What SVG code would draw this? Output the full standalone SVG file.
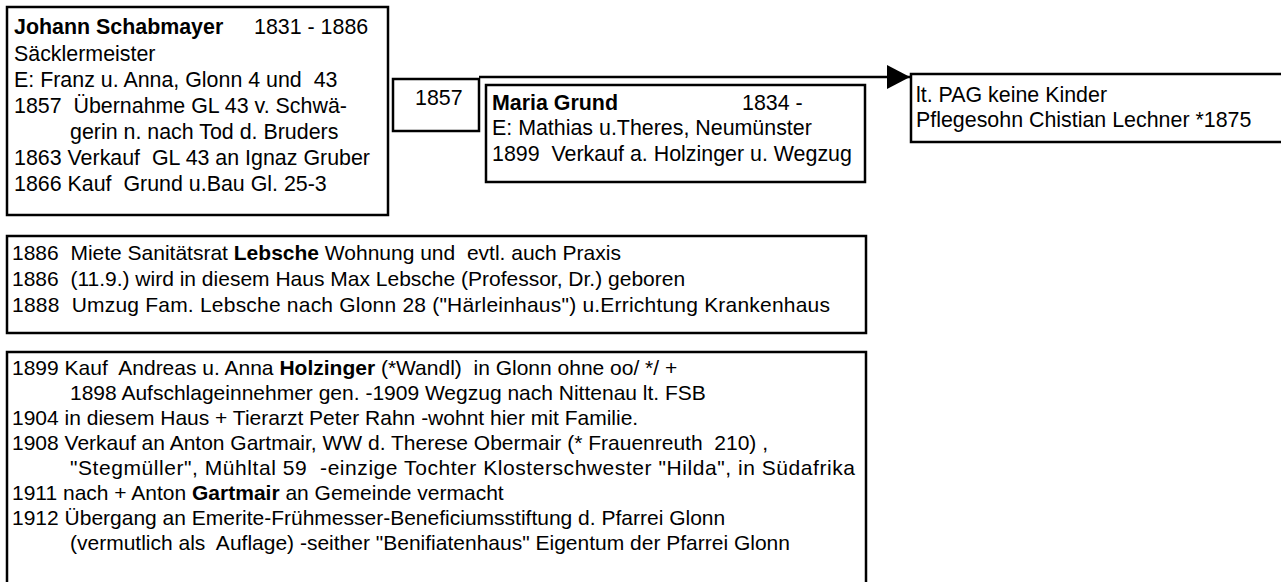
<svg xmlns="http://www.w3.org/2000/svg" width="1281" height="582" viewBox="0 0 1281 582">
<style>
.box{fill:#fff;stroke:#000;stroke-width:2.5}
text{font-family:"Liberation Sans",Arial,sans-serif;font-size:21.4px;fill:#000}
.low text{font-size:21px}
.b{font-weight:bold}
.conn{stroke:#000;stroke-width:2.5;fill:none}
</style>
<defs>
<marker id="arr" markerUnits="userSpaceOnUse" markerWidth="24" markerHeight="26" refX="23" refY="12" orient="auto">
<path d="M0,0 L23,12 L0,24 Z" fill="#000"/>
</marker>
</defs>
<rect width="1281" height="582" fill="#fff"/>
<g id="connectors">
<line class="conn" x1="479" y1="77" x2="910" y2="77" marker-end="url(#arr)"/>
</g>
<g id="node-schabmayer">
<rect class="box" x="7" y="7" width="381" height="208"/>
<text x="14" y="34"><tspan class="b">Johann Schabmayer</tspan></text>
<text x="254" y="34">1831 - 1886</text>
<text x="14" y="61">Säcklermeister</text>
<text x="14" y="87" xml:space="preserve">E: Franz u. Anna, Glonn 4 und  43</text>
<text x="14" y="113" xml:space="preserve">1857  Übernahme GL 43 v. Schwä-</text>
<text x="70" y="139">gerin n. nach Tod d. Bruders</text>
<text x="14" y="165" xml:space="preserve">1863 Verkauf  GL 43 an Ignaz Gruber</text>
<text x="14" y="191" xml:space="preserve">1866 Kauf  Grund u.Bau Gl. 25-3</text>
</g>
<g id="node-1857">
<rect class="box" x="393" y="79" width="86" height="52"/>
<text x="415" y="105">1857</text>
</g>
<g id="node-grund">
<rect class="box" x="486" y="85" width="379" height="97"/>
<text x="492" y="110" class="b">Maria Grund</text>
<text x="742" y="110">1834 -</text>
<text x="492" y="135">E: Mathias u.Theres, Neumünster</text>
<text x="492" y="161" xml:space="preserve">1899  Verkauf a. Holzinger u. Wegzug</text>
</g>
<g id="node-kinder">
<rect class="box" x="911" y="74" width="380" height="68"/>
<text x="916" y="102">lt. PAG keine Kinder</text>
<text x="916" y="127">Pflegesohn Chistian Lechner *1875</text>
</g>
<g id="node-lebsche" class="low">
<rect class="box" x="7" y="236" width="859" height="97"/>
<text x="12" y="260" xml:space="preserve">1886  Miete Sanitätsrat <tspan class="b">Lebsche</tspan> Wohnung und  evtl. auch Praxis</text>
<text x="12" y="286" xml:space="preserve">1886  (11.9.) wird in diesem Haus Max Lebsche (Professor, Dr.) geboren</text>
<text x="12" y="312" xml:space="preserve" textLength="818" lengthAdjust="spacing">1888  Umzug Fam. Lebsche nach Glonn 28 ("Härleinhaus") u.Errichtung Krankenhaus</text>
</g>
<g id="node-holzinger" class="low">
<rect class="box" x="7" y="352" width="859" height="260"/>
<text x="12" y="375" xml:space="preserve">1899 Kauf  Andreas u. Anna <tspan class="b">Holzinger</tspan> (*Wandl)  in Glonn ohne oo/ */ +</text>
<text x="70" y="400">1898 Aufschlageinnehmer gen. -1909 Wegzug nach Nittenau lt. FSB</text>
<text x="12" y="425">1904 in diesem Haus + Tierarzt Peter Rahn -wohnt hier mit Familie.</text>
<text x="12" y="450" xml:space="preserve">1908 Verkauf an Anton Gartmair, WW d. Therese Obermair (* Frauenreuth  210) ,</text>
<text x="70" y="475" xml:space="preserve" textLength="785" lengthAdjust="spacing">"Stegmüller", Mühltal 59  -einzige Tochter Klosterschwester "Hilda", in Südafrika</text>
<text x="12" y="500">1911 nach + Anton <tspan class="b">Gartmair</tspan> an Gemeinde vermacht</text>
<text x="12" y="525">1912 Übergang an Emerite-Frühmesser-Beneficiumsstiftung d. Pfarrei Glonn</text>
<text x="70" y="550" xml:space="preserve">(vermutlich als  Auflage) -seither "Benifiatenhaus" Eigentum der Pfarrei Glonn</text>
</g>
</svg>
